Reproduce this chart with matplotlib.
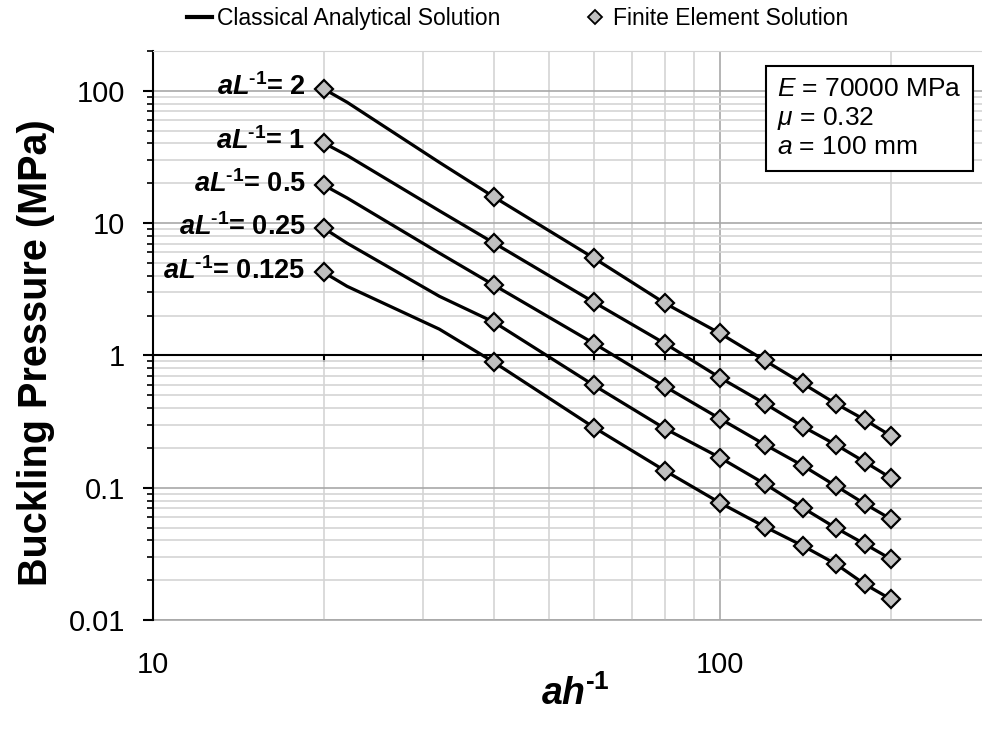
import matplotlib
matplotlib.use("Agg")
import matplotlib.pyplot as plt
from matplotlib.lines import Line2D
from matplotlib.ticker import FuncFormatter, NullFormatter, LogLocator

plt.rcParams['font.family'] = ['Liberation Sans', 'DejaVu Sans']
plt.rcParams['mathtext.fontset'] = 'custom'
plt.rcParams['mathtext.rm'] = 'Liberation Sans'
plt.rcParams['mathtext.it'] = 'Liberation Sans:italic'
plt.rcParams['mathtext.bf'] = 'Liberation Sans:bold'
plt.rcParams['mathtext.bfit'] = 'Liberation Sans:italic:bold'

# slenderness ratio a/h
ah_fe = [20, 40, 60, 80, 100, 120, 140, 160, 180, 200]
ah_an = [20, 22, 32, 40, 60, 80, 100, 120, 140, 160, 180, 200]

ratios = ['2', '1', '0.5', '0.25', '0.125']

# finite element results (MPa)
fe_2 = [103.5, 15.7, 5.43, 2.48, 1.47, 0.916, 0.614, 0.433, 0.327, 0.248]
fe_1 = [40.4, 7.05, 2.52, 1.23, 0.68, 0.433, 0.29, 0.212, 0.157, 0.119]
fe_05 = [19.4, 3.39, 1.23, 0.582, 0.333, 0.212, 0.147, 0.1035, 0.0757, 0.0582]
fe_025 = [9.17, 1.78, 0.593, 0.28, 0.169, 0.107, 0.0705, 0.0498, 0.0376, 0.029]
fe_0125 = [4.25, 0.885, 0.285, 0.1345, 0.077, 0.0507, 0.0364, 0.0266, 0.0187, 0.0144]

# classical analytical solution (MPa)
an_2 = [103.5, 82.0, 28.8, 15.7, 5.43, 2.48, 1.47, 0.916, 0.614, 0.433, 0.327, 0.248]
an_1 = [40.4, 32.5, 12.4, 7.05, 2.52, 1.23, 0.68, 0.433, 0.29, 0.212, 0.157, 0.119]
an_05 = [19.4, 15.5, 5.94, 3.39, 1.23, 0.582, 0.333, 0.212, 0.147, 0.1035, 0.0757, 0.0582]
an_025 = [9.17, 7.05, 2.8, 1.78, 0.593, 0.28, 0.169, 0.107, 0.0705, 0.0498, 0.0376, 0.029]
an_0125 = [4.25, 3.33, 1.58, 0.885, 0.285, 0.1345, 0.077, 0.0507, 0.0364, 0.0266, 0.0187, 0.0144]

fe_all = [fe_2, fe_1, fe_05, fe_025, fe_0125]
an_all = [an_2, an_1, an_05, an_025, an_0125]

x_ticks = [10, 100]

fig = plt.figure(figsize=(9.82, 7.29), dpi=100)
ax = fig.add_axes([0.1558, 0.1495, 0.8442, 0.7805])
ax.set_xscale('log')
ax.set_yscale('log')
ax.set_xlim(10, 290)
ax.set_ylim(0.01, 200)

# grid
ax.grid(True, which='major', color='#a8a8a8', lw=1.2)
ax.grid(True, which='minor', color='#d4d4d4', lw=1.2)
ax.set_axisbelow(True)
ax.xaxis.set_minor_locator(LogLocator(base=10, subs=range(2, 10)))
ax.yaxis.set_minor_locator(LogLocator(base=10, subs=range(2, 10)))

sup = r'^{\mathbf{‐1}}'
for fe, an, r in zip(fe_all, an_all, ratios):
    ax.plot(ah_an, an, color='black', lw=2.3, zorder=3)
    ax.plot(ah_fe, fe, ls='none', marker='D', markersize=9, markerfacecolor='#c0c0c0',
            markeredgecolor='black', markeredgewidth=1.6, zorder=4)
    ax.annotate(r'$\mathbfit{aL}' + sup + '$= ' + r, xy=(ah_fe[0], fe[0]),
                xytext=(-13, 1), textcoords='offset points', ha='right', va='center',
                fontsize=19.5, fontweight='bold')

# horizontal axis crosses at 1
ax.spines['bottom'].set_position(('data', 1))
ax.spines['bottom'].set_color('black')
ax.spines['bottom'].set_linewidth(1.5)
ax.spines['bottom'].set_zorder(2)
ax.spines['right'].set_visible(False)
ax.spines['top'].set_color('#d4d4d4')
ax.spines['left'].set_linewidth(1.5)
ax.tick_params(axis='x', which='both', direction='out', length=5, width=1.5,
               labelbottom=False)
ax.tick_params(axis='y', which='major', direction='out', length=7, width=1.5,
               labelsize=21, pad=13)
ax.tick_params(axis='y', which='minor', direction='out', length=4, width=1.2)
ax.yaxis.set_major_formatter(FuncFormatter(lambda v, p: '{:g}'.format(v)))
ax.yaxis.set_minor_formatter(NullFormatter())

# x tick labels sit below the plot area
sec = ax.secondary_xaxis(0)
sec.set_xticks(x_ticks)
sec.set_xticks([], minor=True)
sec.spines['bottom'].set_color('#a8a8a8')
sec.spines['bottom'].set_linewidth(1.2)
sec.tick_params(axis='x', which='both', length=0, labelsize=21, pad=22)
sec.xaxis.set_major_formatter(FuncFormatter(lambda v, p: '{:g}'.format(v)))

ax.set_ylabel('Buckling Pressure (MPa)', fontsize=28.5, fontweight='bold')
ax.yaxis.set_label_coords(-0.118, 0.47)
ax.set_xlabel(r'$\mathbfit{ah}' + sup + '$', fontsize=27)
ax.xaxis.set_label_coords(0.509, -0.097)

ax.text(0.753, 0.955, '$\\mathit{E}$ = 70000 MPa\n$\\mu$ = 0.32\n$\\mathit{a}$ = 100 mm',
        transform=ax.transAxes, ha='left', va='top', fontsize=19, linespacing=1.2,
        bbox=dict(boxstyle='square,pad=0.42', facecolor='white', edgecolor='black', lw=1.5),
        zorder=5)

handles = [Line2D([], [], color='black', lw=3),
           Line2D([], [], ls='none', marker='D', markersize=7, markerfacecolor='#c0c0c0',
                  markeredgecolor='black', markeredgewidth=1.3)]
fig.legend(handles, ['Classical Analytical Solution', 'Finite Element Solution'],
           loc='center', bbox_to_anchor=(0.527, 0.975), ncol=2, frameon=False,
           fontsize=16.5, handlelength=1.1, handletextpad=0.2, columnspacing=3.6)

fig.savefig('out.png', dpi=100)
